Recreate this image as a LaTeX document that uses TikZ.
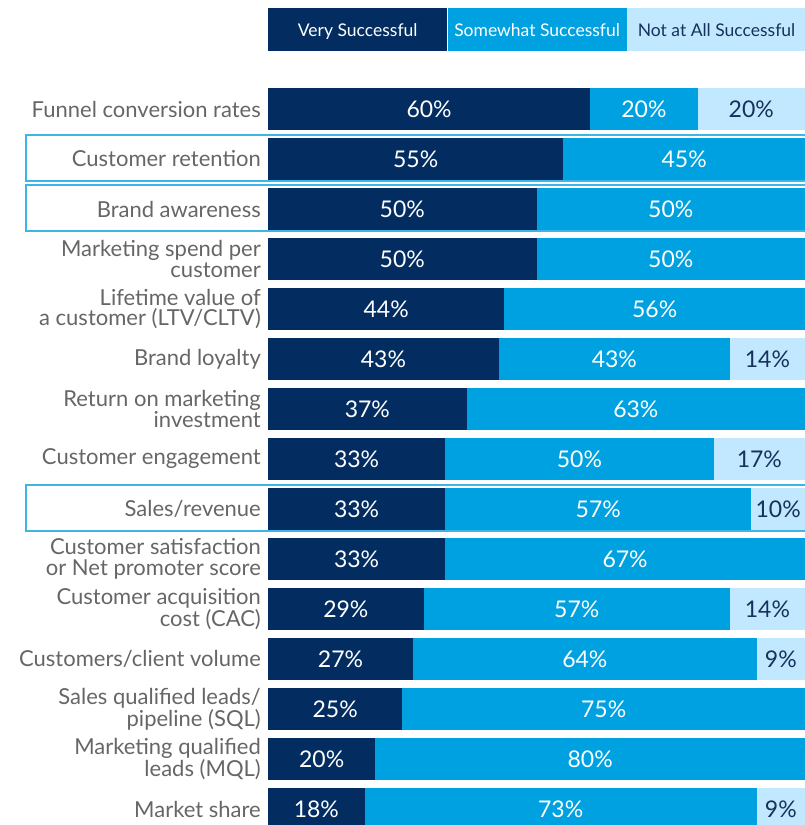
\documentclass[tikz,border=0pt]{standalone}
\usepackage{fontspec}
\setmainfont{Lato}
\definecolor{vdark}{HTML}{032D60}
\definecolor{vmid}{HTML}{00A1E0}
\definecolor{vlight}{HTML}{C2E8FF}
\definecolor{vtext}{HTML}{16325C}
\definecolor{lgray}{HTML}{666666}
\definecolor{hl}{HTML}{3DB5E6}
\tikzset{
  seg/.style={rectangle,inner sep=0pt,outer sep=0pt,anchor=north west,minimum height=42pt,font=\fontsize{23}{25}\selectfont},
  segv/.style={seg,fill=vdark,text=white},
  segs/.style={seg,fill=vmid,text=white},
  segn/.style={seg,fill=vlight,text=vtext},
  lab/.style={anchor=east,align=right,text=lgray,inner sep=0pt,font=\fontsize{22}{20.5}\selectfont},
  hlbox/.style={draw=hl,line width=1.6pt},
  leg/.style={rectangle,inner sep=0pt,anchor=north west,minimum width=179pt,minimum height=43pt,text height=16pt,text depth=3pt,font=\fontsize{17.5}{19}\selectfont}
}
\newcommand\barrow[6]{%
  \pgfmathsetmacro\yt{88+50*(#1-1)}%
  \pgfmathsetmacro\wv{5.37*#3}%
  \pgfmathsetmacro\ws{5.37*#4}%
  \pgfmathsetmacro\wn{537-\wv-\ws}%
  \ifnum#6=1 \draw[hlbox] (26,\yt-3) rectangle (806,\yt+43);\fi
  \node[segv,minimum width=\wv pt] (v#1) at (268,\yt) {#3\%};
  \node[segs,minimum width=\ws pt] (s#1) at (v#1.north east) {#4\%};
  \ifnum#5>0 \node[segn,minimum width=\wn pt] (n#1) at (s#1.north east) {#5\%};\fi
  \node[lab] (l#1) at (261,\yt+21) {#2};
}
\begin{document}
\begin{tikzpicture}[x=1pt,y=-1pt]
\useasboundingbox (0,0) rectangle (805,825);
\clip (0,0) rectangle (805,825);
\node[leg,fill=vdark,text=white] (lv) at (268,8) {Very Successful};
\node[leg,fill=vmid,text=white] (ls) at (lv.north east) {Somewhat Successful};
\node[leg,fill=vlight,text=vtext] (ln) at (ls.north east) {Not at All Successful};
\barrow{1}{Funnel conversion rates}{60}{20}{20}{0}
\barrow{2}{Customer retention}{55}{45}{0}{1}
\barrow{3}{Brand awareness}{50}{50}{0}{1}
\barrow{4}{Marketing spend per\\customer}{50}{50}{0}{0}
\barrow{5}{Lifetime value of\\a customer (LTV/CLTV)}{44}{56}{0}{0}
\barrow{6}{Brand loyalty}{43}{43}{14}{0}
\barrow{7}{Return on marketing\\investment}{37}{63}{0}{0}
\barrow{8}{Customer engagement}{33}{50}{17}{0}
\barrow{9}{Sales/revenue}{33}{57}{10}{1}
\barrow{10}{Customer satisfaction\\or Net promoter score}{33}{67}{0}{0}
\barrow{11}{Customer acquisition\\cost (CAC)}{29}{57}{14}{0}
\barrow{12}{Customers/client volume}{27}{64}{9}{0}
\barrow{13}{Sales qualified leads/\\pipeline (SQL)}{25}{75}{0}{0}
\barrow{14}{Marketing qualified\\leads (MQL)}{20}{80}{0}{0}
\barrow{15}{Market share}{18}{73}{9}{0}
\end{tikzpicture}
\end{document}
